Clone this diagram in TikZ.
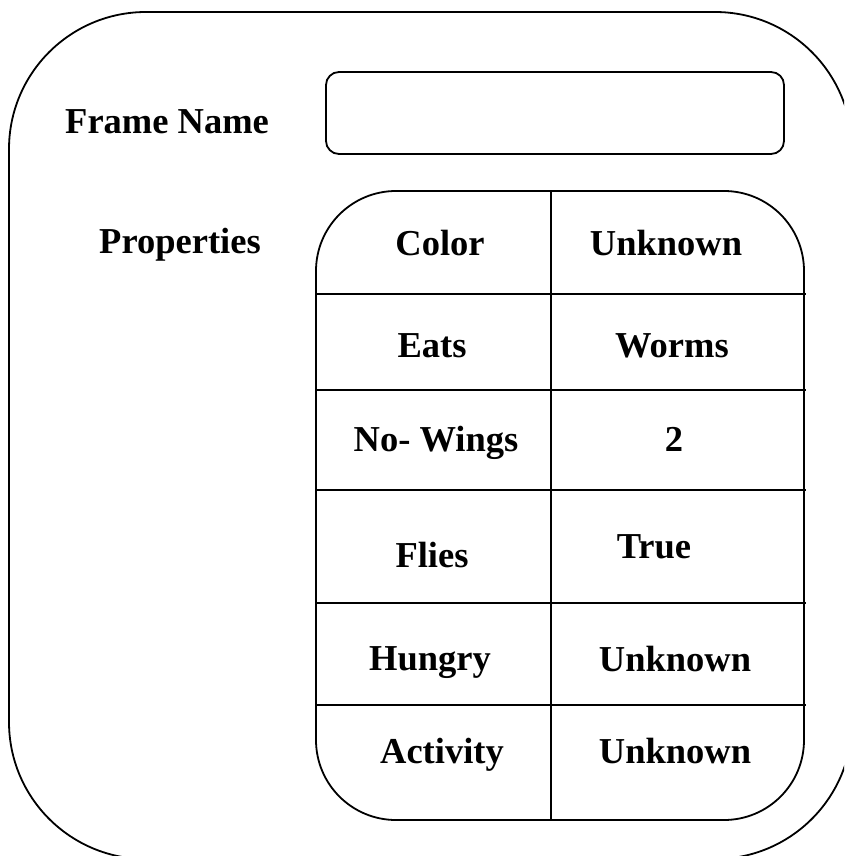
\documentclass[tikz,border=0pt]{standalone}
\usepackage{fontspec}
\setmainfont{Liberation Serif}
\begin{document}
\begin{tikzpicture}[x=1pt,y=-1pt,
  line/.style={draw=black,line width=1.8pt},
  lbl/.style={anchor=base,inner sep=0pt,font=\fontsize{36.5}{40}\selectfont\bfseries}]
\useasboundingbox (0,0) rectangle (844,856);
\clip (0,0) rectangle (844,856);
% outer frame
\draw[line,rounded corners=137pt] (9,12) rectangle (852,859);
% frame name box
\draw[line,rounded corners=13pt] (326,72) rectangle (784,154);
% table
\draw[line,rounded corners=80pt] (316,191) rectangle (804,820);
\draw[line] (551,191) -- (551,820);
\foreach \yy in {294,390,490,603,705}{\draw[line] (316,\yy) -- (806,\yy);}
% labels
\node[lbl,anchor=base west] (fn) at (65,134) {Frame Name};
\node[lbl,anchor=base west] (pr) at (99,253) {Properties};
\node[lbl] (k1) at (440,255) {Color};
\node[lbl] (v1) at (666,255) {Unknown};
\node[lbl] (k2) at (432,357) {Eats};
\node[lbl] (v2) at (672,357) {Worms};
\node[lbl] (k3) at (436,451) {No- Wings};
\node[lbl] (v3) at (674,451) {2};
\node[lbl] (k4) at (432,567) {Flies};
\node[lbl] (v4) at (654,558) {True};
\node[lbl] (k5) at (430,670) {Hungry};
\node[lbl] (v5) at (675,671) {Unknown};
\node[lbl] (k6) at (442,763) {Activity};
\node[lbl] (v6) at (675,763) {Unknown};
\end{tikzpicture}
\end{document}
